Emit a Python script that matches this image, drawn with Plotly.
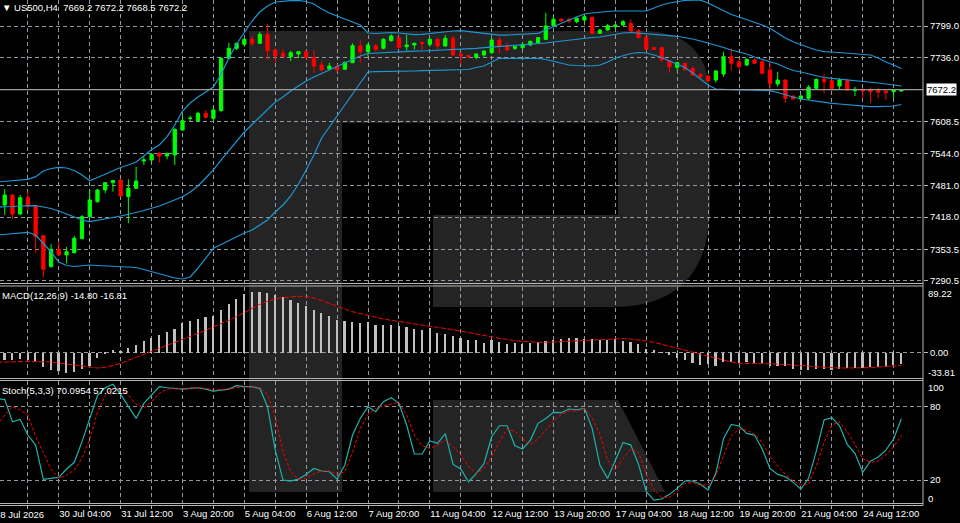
"""US500 H4 terminal-style chart: candles + Bollinger bands, MACD, Stochastic."""

from __future__ import annotations

import plotly.graph_objects as go

# ── Design tokens (MT4 black chart) ─────────────────────────────────────────
_BG = "#000000"
_FG = "#FFFFFF"
_GRID = "#9098A4"
_BULL = "#00FF00"
_BEAR = "#FF0000"
_BAND = "#1E96D2"
_HIST = "#C0C0C0"
_STOCH = "#20B2AA"
_SIGNAL = "#FF0000"
_FRAME = "#B4B4B4"
_WATERMARK = "rgba(255,255,255,0.14)"
_FONT = "Liberation Sans, Arial, sans-serif"
_FS = 9.5

_W, _H = 960, 523
_PLOT_W, _PLOT_H = 923, 505  # price scale lives in the 37px strip on the right

# ── Data: H4 bars, bar index 0 = 28 Jul 2026 20:00 ──────────────────────────
bar_idx = list(range(1, 118))
open_ = [
    7442.1, 7462.0, 7424.1, 7456.6, 7438.7, 7380.8, 7319.0, 7353.7, 7342.4, 7346.9,
    7374.9, 7418.7, 7448.6, 7472.0, 7486.5, 7491.9, 7458.6, 7475.4, 7529.8, 7531.8,
    7545.2, 7539.8, 7541.8, 7591.6, 7614.5, 7610.2, 7624.9, 7614.9, 7630.1, 7734.6,
    7754.5, 7762.5, 7772.5, 7764.5, 7782.5, 7751.1, 7744.6, 7737.8, 7743.2, 7747.7,
    7736.6, 7721.2, 7713.3, 7717.8, 7712.7, 7725.8, 7759.1, 7747.7, 7759.7, 7754.5,
    7769.7, 7775.7, 7757.7, 7761.1, 7766.5, 7762.5, 7772.5, 7759.1, 7774.5, 7743.2,
    7739.8, 7736.6, 7741.2, 7745.8, 7771.1, 7759.1, 7754.5, 7755.7, 7761.1, 7765.7,
    7772.5, 7799.0, 7812.4, 7812.4, 7807.6, 7811.0, 7816.3, 7784.4, 7791.0, 7797.6,
    7801.0, 7804.4, 7789.6, 7776.5, 7755.7, 7755.7, 7729.8, 7716.6, 7724.6, 7714.6,
    7702.7, 7699.3, 7691.3, 7703.3, 7737.8, 7727.8, 7721.2, 7731.2, 7727.8, 7711.3,
    7683.3, 7691.3, 7659.4, 7653.4, 7654.8, 7674.8, 7692.7, 7689.9, 7679.4, 7689.9,
    7670.0, 7672.8, 7671.4, 7670.0, 7669.4, 7668.0, 7669.2,
]
high = [
    7473.4, 7464.0, 7462.0, 7468.6, 7442.1, 7382.2, 7364.3, 7368.9, 7358.3, 7380.2,
    7422.1, 7474.0, 7474.0, 7487.9, 7492.0, 7493.3, 7493.3, 7518.4, 7538.4, 7545.2,
    7547.2, 7546.3, 7595.0, 7621.5, 7620.1, 7628.1, 7631.5, 7638.1, 7736.6, 7765.7,
    7765.7, 7774.5, 7779.1, 7787.6, 7803.0, 7754.5, 7752.5, 7749.7, 7749.1, 7750.5,
    7751.1, 7729.2, 7725.8, 7722.6, 7727.8, 7764.5, 7771.1, 7764.5, 7763.1, 7774.5,
    7782.5, 7777.7, 7781.1, 7765.7, 7767.7, 7774.5, 7774.5, 7781.1, 7779.1, 7745.8,
    7741.2, 7744.6, 7749.7, 7774.5, 7777.7, 7765.7, 7761.1, 7764.5, 7769.7, 7777.7,
    7825.5, 7820.9, 7814.4, 7814.4, 7817.5, 7820.9, 7817.5, 7792.4, 7803.0, 7803.0,
    7811.0, 7812.4, 7792.4, 7777.7, 7757.7, 7757.7, 7731.2, 7727.8, 7725.8, 7717.8,
    7704.7, 7701.3, 7711.3, 7747.7, 7754.5, 7732.6, 7734.6, 7734.6, 7731.2, 7725.8,
    7707.9, 7692.0, 7660.0, 7661.4, 7681.3, 7694.7, 7703.3, 7694.7, 7694.7, 7692.7,
    7678.0, 7674.8, 7676.8, 7674.8, 7670.0, 7672.8, 7672.2,
]
low = [
    7422.1, 7413.5, 7422.1, 7432.1, 7346.9, 7297.9, 7318.0, 7341.0, 7325.8, 7345.7,
    7373.7, 7418.0, 7446.6, 7465.4, 7468.6, 7458.6, 7405.6, 7475.0, 7521.8, 7528.4,
    7526.4, 7533.2, 7521.8, 7590.2, 7609.6, 7608.2, 7614.9, 7611.5, 7628.1, 7732.6,
    7751.1, 7757.7, 7759.1, 7764.0, 7731.2, 7725.8, 7737.0, 7729.2, 7734.6, 7732.6,
    7705.9, 7709.9, 7711.3, 7707.9, 7711.3, 7725.0, 7725.8, 7737.8, 7747.7, 7752.5,
    7767.7, 7754.5, 7749.7, 7752.5, 7751.1, 7757.7, 7752.5, 7757.7, 7740.0, 7722.6,
    7736.6, 7732.6, 7737.8, 7743.2, 7744.6, 7749.7, 7751.1, 7752.5, 7759.1, 7764.5,
    7771.1, 7797.6, 7807.6, 7805.6, 7804.4, 7805.6, 7783.0, 7783.0, 7789.6, 7792.4,
    7799.0, 7787.6, 7774.5, 7751.1, 7751.1, 7727.8, 7705.9, 7709.9, 7709.9, 7700.0,
    7694.7, 7687.9, 7685.9, 7697.9, 7709.9, 7711.3, 7719.2, 7723.2, 7703.3, 7668.0,
    7678.0, 7646.1, 7652.8, 7651.4, 7651.4, 7672.8, 7664.8, 7670.0, 7672.8, 7670.0,
    7659.4, 7654.8, 7646.1, 7654.8, 7651.4, 7654.8, 7668.5,
]
close = [
    7462.0, 7424.1, 7456.6, 7440.1, 7378.8, 7313.8, 7353.7, 7342.4, 7348.9, 7375.7,
    7418.7, 7452.0, 7472.0, 7486.5, 7491.0, 7460.0, 7475.4, 7489.9, 7531.8, 7543.2,
    7539.8, 7545.2, 7593.0, 7610.2, 7615.3, 7624.9, 7616.9, 7631.5, 7734.6, 7754.5,
    7764.5, 7772.5, 7764.5, 7782.5, 7749.7, 7739.2, 7737.8, 7745.8, 7747.7, 7736.2,
    7719.2, 7711.3, 7719.2, 7711.3, 7726.6, 7759.7, 7747.7, 7761.1, 7752.5, 7772.5,
    7779.1, 7756.5, 7761.1, 7764.5, 7764.5, 7772.5, 7759.1, 7774.5, 7741.2, 7739.2,
    7737.8, 7743.2, 7749.1, 7771.1, 7759.1, 7751.1, 7757.7, 7762.5, 7768.5, 7775.7,
    7799.0, 7812.4, 7809.0, 7809.0, 7814.4, 7817.5, 7784.4, 7791.0, 7799.6, 7801.0,
    7807.6, 7789.0, 7775.7, 7752.5, 7752.5, 7731.2, 7717.8, 7725.8, 7712.7, 7701.3,
    7697.9, 7689.3, 7709.3, 7737.8, 7724.6, 7717.8, 7732.6, 7724.6, 7704.7, 7684.7,
    7691.3, 7654.8, 7653.4, 7659.4, 7676.7, 7692.7, 7687.9, 7674.8, 7691.3, 7671.4,
    7672.8, 7669.4, 7668.0, 7666.8, 7666.0, 7671.4, 7672.2,
]

# Bollinger bands, MACD signal and stochastic start one bar earlier (index 0)
line_idx = list(range(0, 118))
bb_upper = [
    7487.9, 7488.9, 7489.9, 7490.9, 7493.3, 7498.5, 7509.9, 7514.8, 7517.2, 7515.8,
    7510.9, 7501.9, 7490.5, 7496.9, 7503.9, 7509.9, 7516.8, 7521.8, 7527.8, 7539.8,
    7552.7, 7561.7, 7578.3, 7601.6, 7629.5, 7645.5, 7657.4, 7667.4, 7677.4, 7703.3,
    7735.2, 7763.1, 7787.0, 7809.0, 7826.9, 7838.9, 7846.9, 7848.9, 7849.5, 7849.9,
    7847.9, 7842.9, 7832.9, 7824.9, 7818.9, 7813.0, 7807.0, 7801.0, 7785.0, 7784.0,
    7785.0, 7786.0, 7785.0, 7783.0, 7782.0, 7782.4, 7784.0, 7786.0, 7788.0, 7789.0,
    7789.6, 7788.0, 7786.0, 7784.4, 7783.0, 7781.0, 7781.0, 7782.0, 7783.0, 7784.0,
    7784.4, 7791.0, 7798.0, 7805.0, 7811.0, 7817.0, 7823.0, 7824.9, 7826.9, 7827.9,
    7828.9, 7828.9, 7827.9, 7827.5, 7828.9, 7834.9, 7840.9, 7844.9, 7847.9, 7849.9,
    7850.5, 7850.5, 7844.9, 7836.9, 7828.9, 7821.9, 7817.0, 7812.0, 7807.0, 7801.0,
    7794.4, 7785.0, 7775.1, 7767.7, 7761.1, 7756.1, 7751.1, 7748.1, 7747.2, 7746.2,
    7745.2, 7744.2, 7743.2, 7741.2, 7735.2, 7727.2, 7721.2, 7714.3,
]
bb_middle = [
    7438.1, 7438.1, 7439.1, 7440.1, 7440.7, 7440.7, 7438.1, 7435.1, 7430.1, 7424.1,
    7418.1, 7412.1, 7408.8, 7411.2, 7414.1, 7417.1, 7420.1, 7423.1, 7427.1, 7431.1,
    7435.1, 7440.1, 7446.0, 7452.0, 7458.6, 7468.0, 7479.9, 7495.9, 7511.9, 7531.8,
    7550.1, 7568.7, 7587.6, 7602.6, 7618.1, 7633.5, 7647.4, 7657.4, 7669.4, 7679.4,
    7689.3, 7697.3, 7704.3, 7711.3, 7718.2, 7725.2, 7732.2, 7739.2, 7744.2, 7745.2,
    7746.2, 7747.2, 7747.7, 7748.1, 7748.7, 7749.1, 7749.7, 7750.5, 7751.1, 7751.7,
    7752.5, 7753.7, 7754.5, 7755.7, 7756.7, 7757.7, 7758.7, 7759.9, 7761.1, 7762.1,
    7763.1, 7765.1, 7767.1, 7769.1, 7770.7, 7772.1, 7773.7, 7776.1, 7777.1, 7780.0,
    7783.0, 7785.0, 7786.0, 7785.0, 7784.0, 7783.0, 7782.0, 7780.0, 7778.5, 7776.1,
    7773.1, 7769.1, 7765.1, 7761.1, 7756.1, 7751.1, 7747.7, 7743.2, 7737.2, 7732.2,
    7727.8, 7723.2, 7716.2, 7710.3, 7707.3, 7703.3, 7700.3, 7696.3, 7694.7, 7693.3,
    7691.9, 7690.3, 7689.3, 7687.3, 7685.3, 7683.3, 7681.3, 7679.4,
]
bb_lower = [
    7382.2, 7383.2, 7384.8, 7386.2, 7387.6, 7382.2, 7366.3, 7348.3, 7328.4, 7321.4,
    7319.4, 7320.4, 7322.4, 7321.4, 7320.4, 7319.4, 7319.0, 7318.8, 7317.4, 7313.4,
    7309.4, 7305.5, 7301.5, 7296.5, 7294.5, 7298.5, 7316.4, 7336.4, 7355.7, 7363.3,
    7371.3, 7379.3, 7386.2, 7392.2, 7402.2, 7412.1, 7428.1, 7442.1, 7460.0, 7483.9,
    7511.9, 7541.8, 7575.7, 7597.6, 7619.5, 7641.5, 7663.4, 7685.3, 7707.3, 7707.9,
    7707.9, 7708.1, 7708.3, 7708.7, 7709.3, 7709.9, 7710.3, 7710.7, 7710.9, 7711.3,
    7711.3, 7712.3, 7716.2, 7719.2, 7727.2, 7734.6, 7734.6, 7734.6, 7734.6, 7734.6,
    7734.6, 7732.2, 7728.2, 7724.2, 7721.2, 7720.2, 7719.2, 7719.2, 7721.2, 7727.2,
    7735.2, 7740.2, 7744.2, 7746.2, 7745.2, 7741.2, 7736.2, 7729.2, 7723.2, 7716.2,
    7705.3, 7693.3, 7681.3, 7673.4, 7672.4, 7672.0, 7671.4, 7671.4, 7671.0, 7670.6,
    7670.0, 7666.4, 7661.4, 7657.4, 7653.4, 7651.4, 7648.4, 7645.9, 7644.9, 7643.5,
    7642.1, 7640.5, 7639.1, 7638.1, 7638.1, 7638.1, 7639.5, 7642.5,
]

macd_hist = [  # bars 1..117
    -9.0, -9.0, -8.1, -9.9, -11.3, -18.9, -22.5, -24.8, -27.0, -25.2,
    -21.6, -17.1, -6.8, -0.9, 3.6, 2.7, 6.8, 11.3, 15.8, 20.3,
    24.8, 27.9, 32.5, 40.6, 42.8, 46.0, 48.7, 50.5, 58.6, 66.7,
    73.0, 80.2, 82.0, 82.0, 81.1, 78.9, 75.7, 72.1, 67.6, 63.1,
    58.6, 54.1, 49.6, 45.1, 42.8, 41.9, 40.6, 41.5, 38.3, 38.3,
    38.3, 36.1, 35.2, 32.5, 30.6, 33.8, 27.0, 26.1, 23.4, 20.3,
    17.1, 18.0, 13.5, 18.0, 14.4, 12.6, 13.5, 12.6, 13.5, 14.4,
    15.8, 17.1, 18.9, 20.3, 20.3, 18.9, 18.9, 18.0, 18.0, 18.9,
    15.8, 14.4, 12.6, 5.4, 3.6, 0.5, -2.3, -6.8, -9.0, -13.5,
    -15.8, -14.4, -18.0, -12.6, -12.6, -13.5, -12.6, -13.5, -13.5, -17.1,
    -17.1, -18.0, -21.6, -23.4, -22.5, -21.6, -21.6, -22.5, -21.6, -20.3,
    -20.3, -20.3, -18.9, -18.9, -17.1, -15.8, -14.8,
]
macd_signal = [  # bars 0..117
    -12.6, -12.6, -12.2, -11.7, -11.3, -11.3, -11.3, -12.2, -13.5, -14.9,
    -16.7, -18.0, -19.8, -20.3, -19.4, -17.1, -14.4, -9.9, -5.9, -2.3,
    1.8, 5.9, 10.4, 14.4, 18.0, 22.1, 26.1, 30.6, 35.2, 39.2,
    44.2, 49.1, 55.0, 60.8, 65.8, 69.9, 73.0, 74.8, 76.2, 76.6,
    76.6, 74.4, 70.8, 66.7, 63.1, 59.5, 55.9, 53.2, 50.9, 48.2,
    46.0, 44.2, 42.4, 40.6, 38.8, 37.4, 36.1, 34.7, 33.4, 31.5,
    29.7, 27.9, 26.3, 24.0, 21.8, 19.8, 18.0, 16.7, 15.8, 14.9,
    14.4, 14.4, 14.9, 15.3, 15.8, 16.2, 16.7, 17.6, 18.0, 18.9,
    19.4, 19.4, 18.9, 18.0, 16.2, 14.4, 11.7, 9.9, 6.8, 3.6,
    0.9, -1.8, -4.5, -7.2, -9.9, -12.2, -14.0, -14.4, -14.4, -14.4,
    -14.4, -14.9, -15.3, -16.2, -17.1, -17.6, -18.5, -19.4, -19.8, -20.3,
    -20.3, -20.3, -20.3, -19.8, -18.9, -18.0, -17.6, -16.81,
]

stoch_main = [  # bars 0..117
    86.3, 86.0, 67.7, 69.6, 56.8, 48.6, 20.5, 21.4, 22.2, 29.0,
    34.5, 51.4, 71.0, 89.0, 95.5, 98.3, 90.1, 80.0, 70.4, 82.7,
    89.5, 96.4, 95.5, 95.0, 94.4, 95.0, 95.5, 94.4, 92.8, 93.6,
    94.4, 97.2, 96.4, 96.4, 95.0, 80.0, 44.5, 20.0, 19.2, 20.8,
    24.6, 29.5, 27.4, 26.8, 20.8, 32.3, 56.8, 70.4, 80.0, 75.9,
    84.1, 87.4, 82.7, 65.0, 41.3, 41.3, 51.9, 50.0, 57.9, 32.8,
    29.0, 18.6, 25.2, 33.4, 55.4, 64.4, 64.4, 48.1, 45.4, 52.5,
    66.4, 70.4, 75.4, 75.1, 78.1, 77.5, 78.6, 62.3, 32.3, 21.4,
    36.4, 50.8, 48.6, 32.8, 10.5, 3.6, 4.5, 8.3, 13.2, 19.2,
    19.2, 16.5, 11.8, 25.5, 54.1, 65.5, 64.2, 58.2, 56.8, 45.4,
    29.5, 24.6, 22.7, 18.1, 12.6, 21.4, 43.7, 69.1, 71.0, 64.4,
    49.2, 41.8, 26.3, 35.5, 38.8, 44.5, 53.5, 70.0954,
]
stoch_signal = [  # bars 0..117
    65.0, 73.2, 80.0, 77.3, 73.2, 55.5, 42.6, 28.7, 21.4, 24.1,
    28.2, 37.7, 53.5, 75.4, 89.0, 95.0, 94.4, 89.5, 81.9, 79.2,
    84.1, 90.9, 94.4, 95.0, 95.0, 95.0, 95.5, 95.0, 93.6, 93.9,
    94.4, 95.5, 96.1, 96.4, 95.5, 90.1, 71.8, 43.2, 26.8, 20.8,
    21.4, 25.2, 27.4, 27.4, 24.6, 26.8, 42.6, 62.3, 73.7, 78.6,
    80.8, 81.9, 83.5, 73.2, 56.8, 48.1, 45.9, 48.6, 52.7, 47.3,
    40.5, 30.9, 25.5, 29.0, 39.1, 51.4, 61.7, 60.1, 53.5, 49.2,
    53.5, 60.9, 68.5, 73.7, 76.4, 76.4, 78.6, 71.0, 57.4, 36.4,
    28.2, 37.7, 45.4, 42.4, 24.6, 12.6, 5.5, 6.1, 10.5, 17.3,
    18.1, 15.9, 15.9, 23.5, 39.9, 56.3, 61.7, 60.9, 57.4, 50.5,
    39.6, 31.5, 24.6, 19.4, 15.9, 17.0, 31.7, 50.8, 65.0, 67.7,
    59.5, 49.2, 37.2, 34.5, 35.5, 40.5, 47.0, 57.0215,
]

# time axis: a label every 8 bars, a grid line every 4
label_idx = [0, 8, 16, 24, 32, 40, 48, 56, 64, 72, 80, 88, 96, 104, 112]
date_labels = [
    "28 Jul 2026", "30 Jul 04:00", "31 Jul 12:00", "3 Aug 20:00", "5 Aug 04:00",
    "6 Aug 12:00", "7 Aug 20:00", "11 Aug 04:00", "12 Aug 12:00", "13 Aug 20:00",
    "17 Aug 04:00", "18 Aug 12:00", "19 Aug 20:00", "21 Aug 04:00", "24 Aug 12:00",
]
grid_idx = list(range(0, 120, 4))
price_ticks = [7799.0, 7736.0, 7608.5, 7544.0, 7481.0, 7418.0, 7353.5, 7290.5]

assert len(open_) == len(high) == len(low) == len(close) == len(bar_idx) == len(macd_hist)
assert len(bb_upper) == len(bb_middle) == len(bb_lower) == len(line_idx)
assert len(macd_signal) == len(stoch_main) == len(stoch_signal) == len(line_idx)

X_RANGE = [0.39, 119.8]
Y_PRICE = [7286.5, 7850.85]
Y_MACD = [-33.81, 89.22]
Y_STOCH = [0, 101]


def _py(py: float) -> float:
    """Pixel row measured from the top of the plot area → paper y."""
    return 1 - py / _PLOT_H


def _px(px: float) -> float:
    return px / _PLOT_W


def _path(cmds) -> str:
    parts = []
    for cmd in cmds:
        if cmd == "Z":
            parts.append("Z")
            continue
        op, *pts = cmd
        parts.append(op + " " + " ".join(f"{_px(x):.4f},{_py(y):.4f}" for x, y in pts))
    return " ".join(parts)


fig = go.Figure()

# ── main window ─────────────────────────────────────────────────────────────
for band in (bb_upper, bb_middle, bb_lower):
    fig.add_trace(go.Scatter(
        x=line_idx, y=band, mode="lines",
        line=dict(color=_BAND, width=1.2),
        xaxis="x", yaxis="y",
    ))

fig.add_trace(go.Candlestick(
    x=bar_idx, open=open_, high=high, low=low, close=close,
    increasing=dict(line=dict(color=_BULL, width=1), fillcolor=_BULL),
    decreasing=dict(line=dict(color=_BEAR, width=1), fillcolor=_BEAR),
    whiskerwidth=0,
    xaxis="x", yaxis="y",
))

# ── MACD window ─────────────────────────────────────────────────────────────
fig.add_trace(go.Bar(
    x=bar_idx, y=macd_hist, width=0.22,
    marker=dict(color=_HIST, line=dict(width=0)),
    xaxis="x2", yaxis="y2",
))
fig.add_trace(go.Scatter(
    x=line_idx, y=macd_signal, mode="lines",
    line=dict(color=_SIGNAL, width=1, dash="5px,2px"),
    xaxis="x2", yaxis="y2",
))

# ── Stochastic window ───────────────────────────────────────────────────────
fig.add_trace(go.Scatter(
    x=line_idx, y=stoch_main, mode="lines",
    line=dict(color=_STOCH, width=1.2),
    xaxis="x3", yaxis="y3",
))
fig.add_trace(go.Scatter(
    x=line_idx, y=stoch_signal, mode="lines",
    line=dict(color=_SIGNAL, width=1, dash="3px,2px"),
    xaxis="x3", yaxis="y3",
))

tick_font = dict(family=_FONT, size=_FS, color=_FG)
x_common = dict(
    range=X_RANGE, tickmode="array", tickvals=grid_idx,
    showgrid=True, gridcolor=_GRID, gridwidth=1, griddash="4px,3px",
    zeroline=False, showline=False, fixedrange=True, automargin=False,
)
y_common = dict(
    side="right", tickmode="array", showgrid=True, gridcolor=_GRID, gridwidth=1,
    griddash="4px,3px", zeroline=False, showline=False, ticks="outside",
    ticklen=4, tickcolor=_FRAME, tickfont=tick_font, fixedrange=True, automargin=False,
)
label_map = dict(zip(label_idx, date_labels))

# watermark "R" logo behind the data
wm_body = _path([
    ("M", (249, 31)), ("L", (642, 31)), ("Q", (710, 31), (710, 100)),
    ("L", (710, 205)), ("Q", (710, 307), (612, 307)), ("L", (433, 307)),
    ("L", (433, 215)), ("L", (618, 215)), ("L", (618, 123)), ("L", (342, 123)),
    ("L", (342, 492)), ("L", (249, 492)), "Z",
])
wm_leg = _path([("M", (433, 400)), ("L", (618, 400)), ("L", (665, 492)), ("L", (433, 492)), "Z"])

shapes = [
    dict(type="path", path=wm_body, xref="paper", yref="paper",
         fillcolor=_WATERMARK, line=dict(width=0), layer="below"),
    dict(type="path", path=wm_leg, xref="paper", yref="paper",
         fillcolor=_WATERMARK, line=dict(width=0), layer="below"),
    # current price line
    dict(type="line", xref="paper", x0=0, x1=1, yref="y", y0=close[-1], y1=close[-1],
         line=dict(color="#9A9A9A", width=1.2)),
    # right edge of the chart
    dict(type="line", xref="paper", x0=1, x1=1, yref="paper", y0=_py(505.5), y1=1,
         line=dict(color=_FRAME, width=1)),
]
for row in (283.5, 286, 378.5, 380.5, 503.5, 505.5):  # window separators
    shapes.append(dict(type="line", xref="paper", x0=0, x1=1, yref="paper",
                       y0=_py(row), y1=_py(row), line=dict(color=_FRAME, width=1)))


def _label(text, x, y, xanchor="left", yanchor="middle", **kw):
    return dict(text=text, xref="paper", yref="paper", x=x, y=y, xanchor=xanchor,
                yanchor=yanchor, showarrow=False, font=tick_font, **kw)


annotations = [
    _label("▼ US500,H4\u00a0\u00a07669.2 7672.2 7668.5 7672.2", 0, 1, yanchor="top"),
    _label("MACD(12,26,9) -14.80 -16.81", 0, _py(287.5), yanchor="top"),
    _label("Stoch(5,3,3) 70.0954 57.0215", 0, _py(382.5), yanchor="top"),
    _label("89.22", 1, _py(293), xshift=3),
    _label("-33.81", 1, _py(372), xshift=3),
    _label("100", 1, _py(387.7), xshift=3),
    _label("0", 1, _py(498.3), xshift=3),
    _label(date_labels[0], (label_idx[0] - X_RANGE[0]) / (X_RANGE[1] - X_RANGE[0]) - 0.004,
           _py(507), yanchor="top"),
    dict(text=f"{close[-1]:.1f}", xref="paper", x=1, xanchor="left", xshift=3,
         yref="y", y=close[-1], yanchor="middle", showarrow=False,
         font=dict(family=_FONT, size=_FS, color="#000000"),
         bgcolor="#FFFFFF", borderpad=0),
]

fig.update_layout(
    template="none",
    width=_W, height=_H,
    paper_bgcolor=_BG, plot_bgcolor="rgba(0,0,0,0)",
    margin=dict(l=0, r=_W - _PLOT_W, t=0, b=_H - _PLOT_H, autoexpand=False),
    font=dict(family=_FONT, size=_FS, color=_FG),
    showlegend=False, hovermode=False, dragmode=False,
    boxgap=0.4, bargap=0,
    xaxis=dict(**x_common, anchor="y", showticklabels=False, ticks="",
               rangeslider=dict(visible=False)),
    xaxis2=dict(**x_common, anchor="y2", showticklabels=False, ticks=""),
    xaxis3=dict(**x_common, anchor="y3", ticktext=[label_map.get(i, "") for i in grid_idx],
                ticklabelposition="outside right", tickangle=0, ticks="outside", ticklen=3,
                tickcolor=_FRAME, tickfont=tick_font),
    yaxis=dict(**y_common, domain=[_py(283), 1], range=Y_PRICE, anchor="x",
               tickvals=price_ticks, ticktext=[f"{v:.1f}" for v in price_ticks]),
    yaxis2=dict(**y_common, domain=[_py(378), _py(287)], range=Y_MACD, anchor="x2",
                tickvals=[0], ticktext=["0.00"]),
    yaxis3=dict(**y_common, domain=[_py(504.5), _py(381)], range=Y_STOCH, anchor="x3",
                tickvals=[20, 80], ticktext=["20", "80"]),
    shapes=shapes,
    annotations=annotations,
)

# the page must sit flush in the window: drop the browser's default body margin
fig.write_html(
    "out.html",
    config={"displayModeBar": False},
    post_script="document.body.style.margin='0';document.body.style.background='#000';",
)
